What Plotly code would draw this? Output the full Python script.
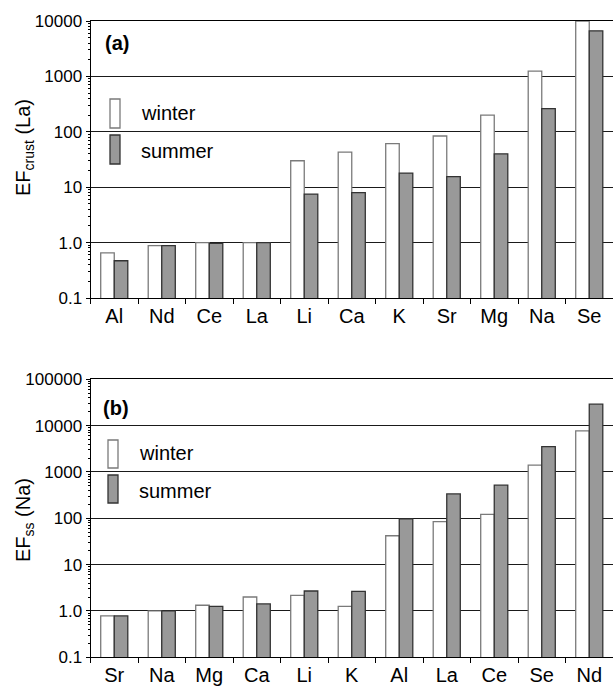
import plotly.graph_objects as go

# Panel (a): crustal enrichment factors, normalised to La
elements_a = ["Al", "Nd", "Ce", "La", "Li", "Ca", "K", "Sr", "Mg", "Na", "Se"]
winter_a = [0.65, 0.88, 1.0, 1.0, 30, 43, 61, 84, 200, 1250, 10000]
summer_a = [0.47, 0.88, 0.97, 1.0, 7.5, 8.0, 18, 15.5, 40, 262, 6650]

# Panel (b): sea-salt enrichment factors, normalised to Na
elements_b = ["Sr", "Na", "Mg", "Ca", "Li", "K", "Al", "La", "Ce", "Se", "Nd"]
winter_b = [0.78, 1.0, 1.33, 2.0, 2.18, 1.26, 42, 85, 122, 1400, 7700]
summer_b = [0.78, 1.0, 1.26, 1.42, 2.7, 2.66, 97, 336, 520, 3540, 29100]

ticks_a = [0.1, 1, 10, 100, 1000, 10000]
ticklabels_a = ["0.1", "1.0", "10", "100", "1000", "10000"]
ticks_b = [0.1, 1, 10, 100, 1000, 10000, 100000]
ticklabels_b = ["0.1", "1.0", "10", "100", "1000", "10000", "100000"]

W, H = 613, 686
FONT = "Liberation Sans, Arial, sans-serif"
WINTER_FILL, WINTER_LINE = "#ffffff", "#7a7a7a"
SUMMER_FILL, SUMMER_LINE = "#999999", "#333333"


def px_x(p):
    return p / W


def px_y(p):
    return 1 - p / H


fig = go.Figure()

for xa, ya, cats, win, sum_ in [
    ("x", "y", elements_a, winter_a, summer_a),
    ("x2", "y2", elements_b, winter_b, summer_b),
]:
    fig.add_trace(go.Bar(x=cats, y=win, name="winter", xaxis=xa, yaxis=ya,
                         marker=dict(color=WINTER_FILL,
                                     line=dict(color=WINTER_LINE, width=1.3)),
                         showlegend=False))
    fig.add_trace(go.Bar(x=cats, y=sum_, name="summer", xaxis=xa, yaxis=ya,
                         marker=dict(color=SUMMER_FILL,
                                     line=dict(color=SUMMER_LINE, width=1.3)),
                         showlegend=False))

x_dom = [px_x(90.5), 1.0]
y_dom_a = [px_y(298), px_y(21)]
y_dom_b = [px_y(657.3), px_y(379.3)]

xaxis_common = dict(
    type="category", range=[-0.5, 10.5], domain=x_dom,
    showline=True, linecolor="black", linewidth=1, mirror=True,
    ticks="outside", ticklen=5, tickcolor="black", tickson="boundaries",
    tickfont=dict(family=FONT, size=20, color="black"),
    showgrid=False, automargin=False,
)
yaxis_common = dict(
    type="log", showline=True, linecolor="black", linewidth=1,
    ticks="outside", ticklen=4, tickcolor="black",
    showgrid=True, gridcolor="#1a1a1a", gridwidth=1,
    tickfont=dict(family=FONT, size=17, color="black"),
    minor=dict(ticks="outside", ticklen=2, tickcolor="black", dtick="D1",
               showgrid=False),
    zeroline=False, automargin=False,
)

fig.update_layout(
    width=W, height=H,
    margin=dict(l=0, r=0, t=0, b=0),
    paper_bgcolor="white", plot_bgcolor="white",
    barmode="group", bargap=0.43, bargroupgap=0,
    xaxis=dict(**xaxis_common, anchor="y"),
    yaxis=dict(**yaxis_common, domain=y_dom_a, range=[-1, 4], anchor="x",
               tickvals=ticks_a, ticktext=ticklabels_a),
    xaxis2=dict(**xaxis_common, anchor="y2"),
    yaxis2=dict(**yaxis_common, domain=y_dom_b, range=[-1, 5], anchor="x2",
                tickvals=ticks_b, ticktext=ticklabels_b),
    font=dict(family=FONT, color="black"),
)

annotations = [
    dict(text="EF<sub>crust</sub> (La)", x=px_x(24), y=px_y(147), textangle=-90),
    dict(text="EF<sub>ss</sub> (Na)", x=px_x(24), y=px_y(520), textangle=-90),
    dict(text="<b>(a)</b>", x=px_x(117), y=px_y(43)),
    dict(text="<b>(b)</b>", x=px_x(116), y=px_y(408)),
]
for a in annotations:
    fig.add_annotation(xref="paper", yref="paper", showarrow=False,
                       xanchor="center", yanchor="middle",
                       font=dict(family=FONT, size=20, color="black"), **a)

# Hand-drawn legend: tall bar swatches with labels beside them
legend_boxes = [
    # (x0, x1, y0, y1, fill, line, label, label_y)
    (110, 120, 99, 128, WINTER_FILL, WINTER_LINE, "winter", 113),
    (110, 120, 135, 164, SUMMER_FILL, SUMMER_LINE, "summer", 151),
    (108, 118, 440, 468, WINTER_FILL, WINTER_LINE, "winter", 453),
    (108, 118, 475, 503, SUMMER_FILL, SUMMER_LINE, "summer", 491),
]
for x0, x1, y0, y1, fill, line, label, ly in legend_boxes:
    fig.add_shape(type="rect", xref="paper", yref="paper",
                  x0=px_x(x0), x1=px_x(x1), y0=px_y(y1), y1=px_y(y0),
                  fillcolor=fill, line=dict(color=line, width=1.3))
    fig.add_annotation(xref="paper", yref="paper", showarrow=False,
                       x=px_x(x1 + 19), y=px_y(ly), xanchor="left",
                       yanchor="middle", text=label,
                       font=dict(family=FONT, size=20, color="black"))

fig.write_html("out.html")
